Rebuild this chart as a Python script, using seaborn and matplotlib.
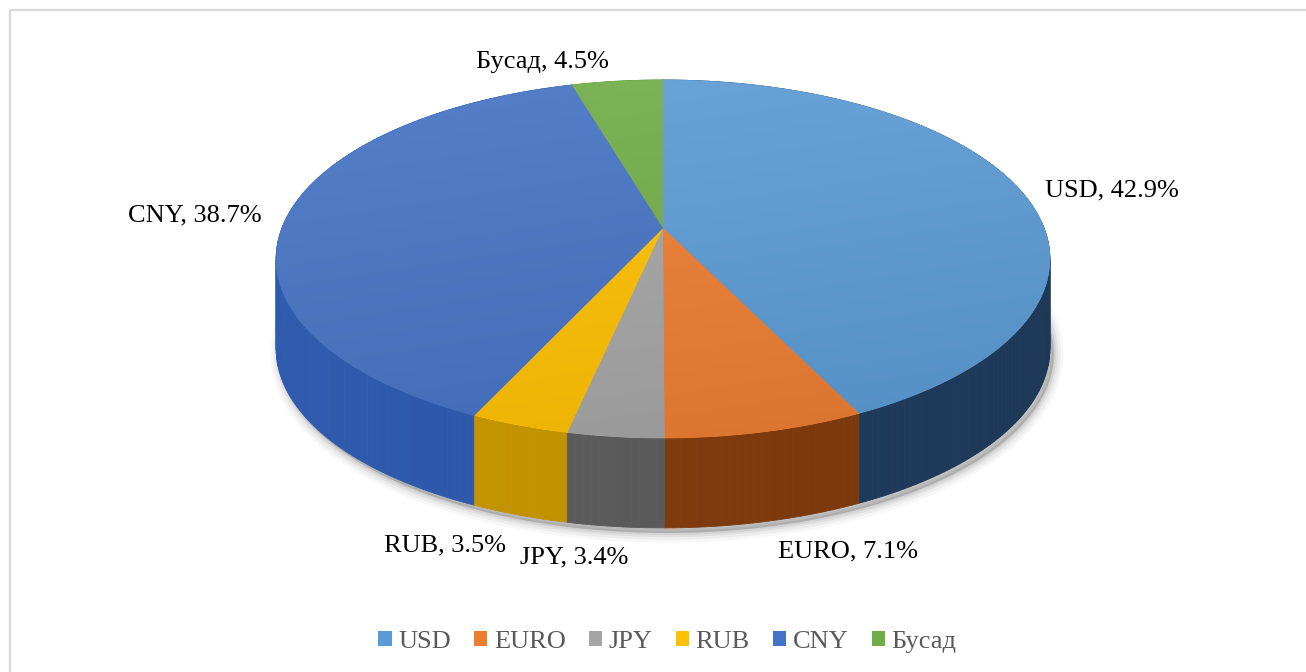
import numpy as np
import matplotlib
matplotlib.use("Agg")
import matplotlib.pyplot as plt
import seaborn as sns
from matplotlib.patches import Polygon, Patch

# ---------------- data ----------------
categories = ['USD', 'EURO', 'JPY', 'RUB', 'CNY', 'Бусад']
shares = [42.9, 7.1, 3.4, 3.5, 38.7, 4.5]

# ---------------- style ----------------
top_colors = sns.color_palette(['#5B9BD5', '#ED7D31', '#A5A5A5', '#FFC000', '#4472C4', '#70AD47'])
side_colors = sns.color_palette(['#1F3B5C', '#7F3A0E', '#5A5A5A', '#BF9000', '#2D57A6', '#4E7F31'])
# label placement: (dx, dy, ha, use_bottom_rim)
label_style = [(24, 0, 'left', False), (82, 30, 'center', True), (-41, 31, 'center', True),
               (-75, 30, 'center', True), (-26, 0, 'right', False), (-75, -19, 'center', False)]

sns.set_theme(style='white')
plt.rcParams['font.family'] = ['Liberation Serif', 'DejaVu Serif']

W, H = 1306, 672
fig = plt.figure(figsize=(13.06, 6.72), dpi=100)
ax = fig.add_axes([0, 0, 1, 1])
ax.set_xlim(0, W)
ax.set_ylim(H, 0)
ax.axis('off')

# projection of a perspective 3D disc
CX, CY = 663, 228
A, B, K, TH = 381, 173.6, 0.173, 90


def proj(phi_deg, r=1.0, z=0.0):
    t = np.radians(phi_deg)
    u = r * np.sin(t)
    v = r * np.cos(t)
    w = 1 + K * v
    return CX + A * u / w, CY - B * v / w + z * TH


vals = np.array(shares, dtype=float)
frac = vals / vals.sum()
bounds = np.concatenate([[0], np.cumsum(frac)]) * 360.0

# ---------------- shadow ----------------
phis = np.linspace(0, 360, 361)
bx, by = proj(phis, z=1.0)
for lw, al in [(14, 0.03), (10, 0.04), (6, 0.05), (3, 0.06)]:
    ax.add_patch(Polygon(np.column_stack([bx + 4, by + 5]), closed=True,
                         facecolor=(0, 0, 0, al), edgecolor=(0, 0, 0, al), lw=lw, zorder=1))

# ---------------- side walls ----------------
segs = []
for i in range(len(vals)):
    a0, a1 = bounds[i], bounds[i + 1]
    n = max(2, int((a1 - a0) / 1.0))
    edges = np.linspace(a0, a1, n + 1)
    for s0, s1 in zip(edges[:-1], edges[1:]):
        segs.append((np.cos(np.radians((s0 + s1) / 2)), i, s0, s1))
segs.sort(key=lambda s: -s[0])
for v, i, s0, s1 in segs:
    x0, y0 = proj(s0)
    x1, y1 = proj(s1)
    x2, y2 = proj(s1, z=1.0)
    x3, y3 = proj(s0, z=1.0)
    u = np.sin(np.radians((s0 + s1) / 2))
    f = 1.0 - 0.05 * u
    c = np.clip(np.array(side_colors[i]) * f, 0, 1)
    ax.add_patch(Polygon([(x0, y0), (x1, y1), (x2, y2), (x3, y3)], closed=True,
                         facecolor=c, edgecolor=c, lw=0.6, zorder=2))

# ---------------- top faces ----------------
gx0, gx1 = CX - A * 1.03, CX + A * 1.03
gy0, gy1 = CY - B / (1 + K) - 3, CY + B / (1 - K) + 3
yy, xx = np.mgrid[0:1:200j, 0:1:300j]
sgrad = 0.75 * yy + 0.25 * xx
for i in range(len(vals)):
    arc = np.linspace(bounds[i], bounds[i + 1], max(3, int(bounds[i + 1] - bounds[i]) * 2))
    ax_, ay_ = proj(arc)
    pts = np.vstack([[CX, CY], np.column_stack([ax_, ay_])])
    base = np.array(top_colors[i])
    poly = Polygon(pts, closed=True, facecolor=base, edgecolor=base, lw=0.6, zorder=3)
    ax.add_patch(poly)
    light = base + (1 - base) * 0.10
    dark = base * 0.92
    img = light[None, None, :] * (1 - sgrad[..., None]) + dark[None, None, :] * sgrad[..., None]
    im = ax.imshow(img, extent=(gx0, gx1, gy1, gy0), origin='upper', aspect='auto',
                   zorder=4, interpolation='bilinear')
    im.set_clip_path(poly)

# ---------------- labels ----------------
for i, cat in enumerate(categories):
    mid = (bounds[i] + bounds[i + 1]) / 2
    dx, dy, ha, bottom = label_style[i]
    lx, ly = proj(mid, z=1.0 if bottom else 0.0)
    ax.text(lx + dx, ly + dy, f"{cat}, {shares[i]}%", fontsize=19, color='black',
            ha=ha, va='center', zorder=6)

# ---------------- legend ----------------
handles = [Patch(facecolor=c, edgecolor='none') for c in top_colors]
fig.legend(handles, categories, loc='center', bbox_to_anchor=(0.511, 1 - 642 / 672),
           ncol=6, frameon=False, fontsize=19, handlelength=0.5, handleheight=0.5,
           handletextpad=0.25, columnspacing=0.88, labelcolor='#595959')

# ---------------- chart border ----------------
ax.plot([9, W], [9.5, 9.5], color='#D9D9D9', lw=1.6, zorder=0, solid_capstyle='butt')
ax.plot([9.5, 9.5], [9, H], color='#D9D9D9', lw=1.6, zorder=0, solid_capstyle='butt')

fig.savefig('out.png', dpi=100)
